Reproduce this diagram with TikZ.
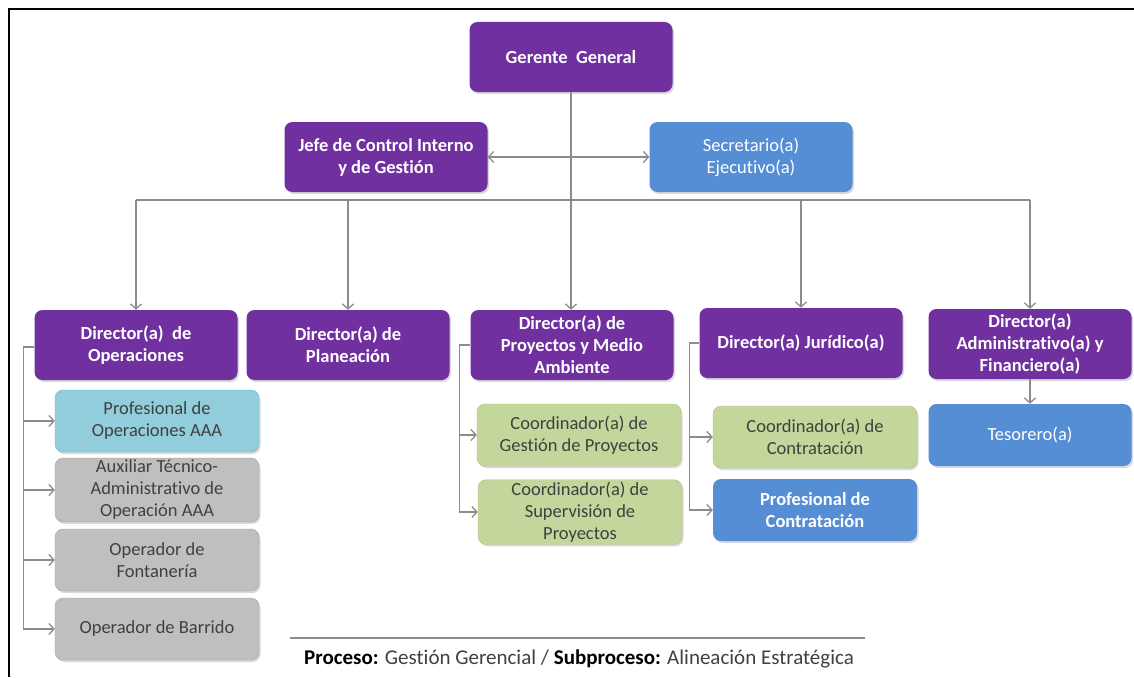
\documentclass[tikz,border=0pt]{standalone}
\usepackage{fontspec}
\setmainfont{Carlito}[Ligatures=NoCommon]
\usepackage{xcolor}
\usetikzlibrary{arrows.meta,shadows}

\definecolor{morado}{HTML}{7030A0}
\definecolor{azul}{HTML}{558ED5}
\definecolor{celeste}{HTML}{92CDDC}
\definecolor{celesteborde}{HTML}{6FB8CC}
\definecolor{gris}{HTML}{BFBFBF}
\definecolor{grisborde}{HTML}{A6A6A6}
\definecolor{verde}{HTML}{C3D69B}
\definecolor{verdeborde}{HTML}{A9C47A}
\definecolor{linea}{HTML}{8C8C8C}
\definecolor{texto}{HTML}{404040}

\tikzset{
  caja/.style={rounded corners=8pt, minimum width=203pt, minimum height=70pt,
    align=center, inner sep=2pt, font=\fontsize{18.5}{22}\selectfont,
    drop shadow={opacity=0.3, shadow xshift=1.5pt, shadow yshift=-2pt}},
  cajachica/.style={caja, minimum width=204pt, minimum height=62pt},
  jefe/.style={caja, fill=morado, text=white, font=\fontsize{18.5}{22}\selectfont\bfseries},
  apoyo/.style={caja, fill=azul, text=white},
  apoyochico/.style={cajachica, fill=azul, text=white, font=\fontsize{18.5}{22}\selectfont\bfseries},
  tecnico/.style={cajachica, fill=celeste, draw=celesteborde, text=texto},
  auxiliar/.style={cajachica, fill=gris, draw=grisborde, text=texto},
  coordina/.style={cajachica, fill=verde, draw=verdeborde, text=texto},
  flecha/.style={draw=linea, line width=1.3pt, -{Straight Barb[length=5pt,width=11pt]}},
  enlace/.style={draw=linea, line width=1.3pt}
}

\begin{document}
\begin{tikzpicture}[x=1pt,y=-1pt]
    \useasboundingbox (0,0) rectangle (1134,677);

    % marco
    \draw[line width=2pt] (9,677) -- (9,9) -- (1134,9);

    % nivel directivo
    \node[jefe] (gerente) at (571,57) {Gerente\ \ General};
    \node[jefe] (control) at (386,157) {Jefe de Control Interno\\y de Gestión};
    \node[apoyo] (secretario) at (751,157) {Secretario(a)\\Ejecutivo(a)};

    % directores
    \node[jefe] (dop)  at (136,345)  {Director(a)\ \ de\\Operaciones};
    \node[jefe] (dpla) at (348,345)  {Director(a) de\\Planeación};
    \node[jefe] (dpro) at (572,345)  {Director(a) de\\Proyectos y Medio\\Ambiente};
    \node[jefe] (djur) at (801,343)  {Director(a) Jurídico(a)};
    \node[jefe] (dadm) at (1030,344) {Director(a)\\Administrativo(a) y\\Financiero(a)};

    % cargos de operaciones
    \node[tecnico]  (profop)  at (157,421) {Profesional de\\Operaciones AAA};
    \node[auxiliar] (aux)     at (157,490) {Auxiliar Técnico-\\Administrativo de\\Operación AAA};
    \node[auxiliar] (fonta)   at (157,560) {Operador de\\Fontanería};
    \node[auxiliar] (barrido) at (157,629) {Operador de Barrido};

    % cargos de proyectos, juridica y financiera
    \node[coordina] (cgest) at (579,435) {Coordinador(a) de\\Gestión de Proyectos};
    \node[coordina] (csup)  at (580,512) {Coordinador(a) de\\Supervisión de\\Proyectos};
    \node[coordina] (ccon)  at (815,437) {Coordinador(a) de\\Contratación};
    \node[apoyochico] (pcon) at (815,510) {Profesional de\\Contratación};
    \node[apoyo, minimum height=62pt] (teso) at (1030,435) {Tesorero(a)};

    % tronco principal
    \coordinate (bus) at (571,200);
    \draw[flecha] (gerente.south) -- (gerente.south |- dpro.north);
    \draw[flecha, {Straight Barb[length=5pt,width=11pt]}-{Straight Barb[length=5pt,width=11pt]}]
        (control.east) -- (secretario.west);
    \draw[enlace] (bus -| dop.north) -- (bus -| dadm.north);
    \foreach \d in {dop,dpla,djur,dadm}
        \draw[flecha] (bus -| \d.north) -- (\d.north);

    % ramas laterales
    \foreach \n in {profop,aux,fonta,barrido}
        \draw[flecha] ([yshift=-2pt]dop.west) -- ++(-11,0) |- (\n.west);
    \foreach \n in {cgest,csup}
        \draw[flecha] (dpro.west) -- ++(-11,0) |- (\n.west);
    \foreach \n in {ccon,pcon}
        \draw[flecha] (djur.west) -- ++(-10,0) |- (\n.west);
    \draw[flecha] (dadm.south) -- (teso.north);

    % pie
    \coordinate (pieizq) at (290,638);
    \coordinate (pieder) at (865,638);
    \draw[linea, line width=1.2pt] (pieizq) -- (pieder);
    \node[font=\fontsize{21}{24}\selectfont, text=texto] (pie) at (579,659)
        {\textbf{\color{black}Proceso:} Gestión Gerencial / \textbf{\color{black}Subproceso:} Alineación Estratégica};
\end{tikzpicture}
\end{document}
